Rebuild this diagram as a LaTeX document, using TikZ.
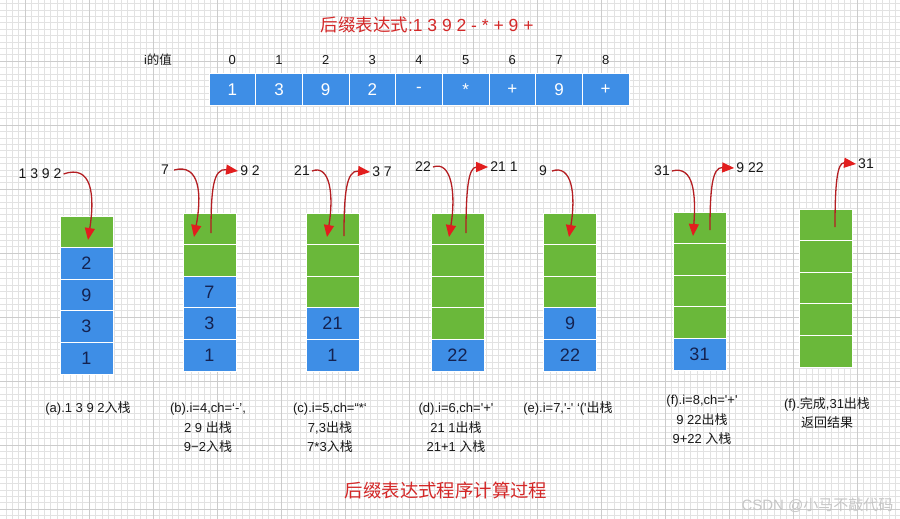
\documentclass[tikz,border=0pt]{standalone}
\usepackage{fontspec}
\setmainfont{Liberation Sans}[Ligatures=TeXOff]
\newfontfamily\cjkfont{Noto Sans CJK SC}
\newcommand\zh[1]{{\cjkfont #1}}
\usetikzlibrary{arrows.meta}
\definecolor{cblue}{RGB}{62,142,230}
\definecolor{cgreen}{RGB}{106,184,58}
\definecolor{cnavy}{RGB}{20,34,80}
\definecolor{cred}{RGB}{226,30,30}
\definecolor{cdred}{RGB}{180,30,34}
\definecolor{ctitle}{RGB}{212,40,40}
\definecolor{gminorc}{RGB}{226,226,226}
\definecolor{gmajorc}{RGB}{204,204,204}
\begin{document}
\begin{tikzpicture}[x=1pt,y=-1pt,
  gminor/.style={draw=gminorc,line width=0.5pt},
  gmajor/.style={draw=gmajorc,line width=0.7pt},
  cellg/.style={fill=cgreen,draw=white,line width=1pt,minimum width=53pt,minimum height=31.6pt,inner sep=0pt},
  cellb/.style={cellg,fill=cblue,text=cnavy,font=\fontsize{18}{21}\selectfont},
  arrcell/.style={fill=cblue,draw=white,line width=1pt,minimum width=46.67pt,minimum height=31pt,inner sep=0pt,text=white,font=\fontsize{17}{20}\selectfont},
  idx/.style={font=\fontsize{13}{15}\selectfont,text=black!90},
  lbl/.style={font=\fontsize{14}{16}\selectfont,inner sep=2pt,text=black!90},
  capbox/.style={font=\fontsize{13}{19.5}\selectfont,align=center,inner sep=0pt,text=black!90},
  redarr/.style={draw=cdred,line width=1.3pt,-{Triangle[length=12pt,width=10pt,color=cred]}},
]
\useasboundingbox (0,0) rectangle (900,519);
\fill[white] (0,0) rectangle (900,519);
% grid paper
\foreach \k in {-3,...,136} \draw[gminor] ({25+6.4*\k},0) -- ({25+6.4*\k},519);
\foreach \k in {0,...,81} \draw[gminor] (0,{-3+6.4*\k}) -- (900,{-3+6.4*\k});
\foreach \k in {0,...,13} \draw[gmajor] ({25+64*\k},0) -- ({25+64*\k},519);
\foreach \k in {1,...,8} \draw[gmajor] (0,{-3+64*\k}) -- (900,{-3+64*\k});

% titles
\node[font=\fontsize{17.5}{20}\selectfont,text=ctitle] (title) at (427,25) {\zh{后缀表达式}:1 3 9 2 - * + 9 +};
\node[font=\fontsize{18.4}{22}\selectfont,text=ctitle] (btitle) at (446,490) {\zh{后缀表达式程序计算过程}};
\node[font=\fontsize{15}{18}\selectfont,text=gray!45,anchor=east] (wm) at (897,505) {CSDN @\zh{小马不敲代码}};

% array
\node[font=\fontsize{12.5}{15}\selectfont,text=black!90] (ilbl) at (158,60) {i\zh{的值}};
\foreach \t [count=\i from 0] in {1,3,9,2,-,*,+,9,+} {
  \node[arrcell] (arr\i) at ({209+46.67*(\i+0.5)},89.5) {\t};
  \node[idx] (idx\i) at ({209+46.67*(\i+0.5)},60) {\i};
}

% stack a
\foreach \i in {1} \node[cellg] (sa\i) at (86.5,{216+31.6*(\i-0.5)}) {};
\foreach \t [count=\i from 2] in {2,9,3,1} \node[cellb] (sa\i) at (86.5,{216+31.6*(\i-0.5)}) {\t};
% stack b
\foreach \i in {1,2} \node[cellg] (sb\i) at (209.5,{213+31.6*(\i-0.5)}) {};
\foreach \t [count=\i from 3] in {7,3,1} \node[cellb] (sb\i) at (209.5,{213+31.6*(\i-0.5)}) {\t};
% stack c
\foreach \i in {1,2,3} \node[cellg] (sc\i) at (332.5,{213+31.6*(\i-0.5)}) {};
\foreach \t [count=\i from 4] in {21,1} \node[cellb] (sc\i) at (332.5,{213+31.6*(\i-0.5)}) {\t};
% stack d
\foreach \i in {1,...,4} \node[cellg] (sd\i) at (457.5,{213+31.6*(\i-0.5)}) {};
\foreach \t [count=\i from 5] in {22} \node[cellb] (sd\i) at (457.5,{213+31.6*(\i-0.5)}) {\t};
% stack e
\foreach \i in {1,2,3} \node[cellg] (se\i) at (570,{213+31.6*(\i-0.5)}) {};
\foreach \t [count=\i from 4] in {9,22} \node[cellb] (se\i) at (570,{213+31.6*(\i-0.5)}) {\t};
% stack f
\foreach \i in {1,...,4} \node[cellg] (sf\i) at (699.5,{212+31.6*(\i-0.5)}) {};
\foreach \t [count=\i from 5] in {31} \node[cellb] (sf\i) at (699.5,{212+31.6*(\i-0.5)}) {\t};
% stack g
\foreach \i in {1,...,5} \node[cellg] (sg\i) at (825.5,{209+31.6*(\i-0.5)}) {};

% arrow labels
\node[lbl] (la) at (40,174) {1 3 9 2};
\node[lbl] (lbi) at (165,170) {7};
\node[lbl] (lbo) at (250,171) {9 2};
\node[lbl] (lci) at (302,171) {21};
\node[lbl] (lco) at (382,172) {3 7};
\node[lbl] (ldi) at (423,167) {22};
\node[lbl] (ldo) at (504,167) {21 1};
\node[lbl] (lei) at (543,171) {9};
\node[lbl] (lfi) at (662,171) {31};
\node[lbl] (lfo) at (750,168) {9 22};
\node[lbl] (lgo) at (866,164) {31};

% arrow end points
\coordinate (ta) at (88,240);
\coordinate (tbi) at (194,237);
\coordinate (sbo) at (211,233);
\coordinate (tci) at (327,237);
\coordinate (sco) at (344,236);
\coordinate (tdi) at (449,237);
\coordinate (sdo) at (466,233);
\coordinate (tei) at (569,237);
\coordinate (tfi) at (693,236);
\coordinate (sfo) at (710,230);
\coordinate (sgo) at (835,227);

% in arrows
\draw[redarr] (la.east) .. controls (92,164) and (95,195) .. (ta);
\draw[redarr] ([xshift=3pt]lbi.east) .. controls (200,163) and (202,195) .. (tbi);
\draw[redarr] (lci.east) .. controls (330,164) and (334,195) .. (tci);
\draw[redarr] (ldi.east) .. controls (452,160) and (456,195) .. (tdi);
\draw[redarr] ([xshift=3pt]lei.east) .. controls (572,164) and (576,195) .. (tei);
\draw[redarr] (lfi.east) .. controls (694,165) and (696,195) .. (tfi);
% out arrows
\draw[redarr] (sbo) .. controls (211,190) and (213,168) .. (lbo.west);
\draw[redarr] (sco) .. controls (344,195) and (346,170) .. (lco.west);
\draw[redarr] (sdo) .. controls (466,192) and (468,167) .. (ldo.west);
\draw[redarr] (sfo) .. controls (710,190) and (712,167) .. (lfo.west);
\draw[redarr] (sgo) .. controls (835,185) and (837,162) .. (lgo.west);

% captions
\node[capbox] (ca) at (88,408) {(a).1 3 9 2\zh{入栈}};
\node[capbox] (cb) at (208,428) {(b).i=4,ch=‘-’,\\2 9 \zh{出栈}\\9−2\zh{入栈}};
\node[capbox] (cc) at (330,428) {(c).i=5,ch=“*‘\\7,3\zh{出栈}\\7*3\zh{入栈}};
\node[capbox] (cd) at (456,428) {(d).i=6,ch='+'\\21 1\zh{出栈}\\21+1 \zh{入栈}};
\node[capbox] (ce) at (568,408) {(e).i=7,'-' ‘('\zh{出栈}};
\node[capbox] (cf) at (702,420) {(f).i=8,ch='+'\\9 22\zh{出栈}\\9+22 \zh{入栈}};
\node[capbox] (cg) at (827,413) {(f).\zh{完成},31\zh{出栈}\\\zh{返回结果}};
\end{tikzpicture}
\end{document}
